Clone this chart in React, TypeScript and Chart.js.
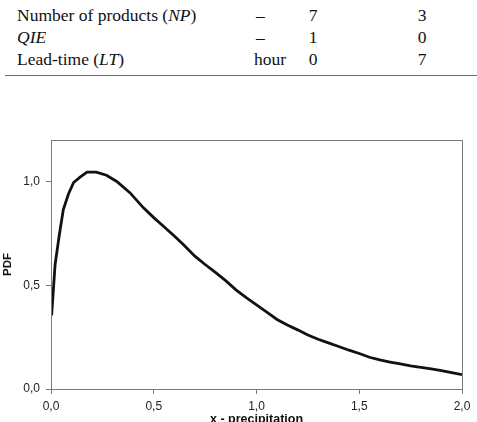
import React, { useEffect, useRef } from "react";
import { Chart, registerables } from "chart.js";

Chart.register(...registerables);

// Precipitation values (x) and probability density (PDF)
const X_VALUES = [
  0.003, 0.011, 0.02, 0.04, 0.06, 0.085, 0.11, 0.14, 0.175, 0.22, 0.27, 0.32,
  0.385, 0.45, 0.5, 0.55, 0.6, 0.65, 0.7, 0.75, 0.8, 0.85, 0.9, 0.95, 1.0,
  1.05, 1.1, 1.15, 1.2, 1.25, 1.3, 1.35, 1.4, 1.45, 1.5, 1.55, 1.6, 1.65, 1.7,
  1.75, 1.8, 1.85, 1.9, 1.95, 2.0,
];
const PDF_VALUES = [
  0.355, 0.47, 0.6, 0.74, 0.865, 0.94, 0.995, 1.02, 1.045, 1.045, 1.03, 1.0,
  0.945, 0.873, 0.826, 0.782, 0.737, 0.69, 0.64, 0.6, 0.562, 0.522, 0.478,
  0.44, 0.405, 0.37, 0.335, 0.308, 0.285, 0.26, 0.24, 0.222, 0.205, 0.187,
  0.171, 0.153, 0.14, 0.13, 0.121, 0.111, 0.104, 0.097, 0.089, 0.079, 0.069,
];
const X_TICKS = [0, 0.5, 1.0, 1.5, 2.0];
const Y_TICKS = [0, 0.5, 1.0];

// Table rows printed above the figure
const ROW_LABELS: [string, string][] = [
  ["Number of products (", "NP"],
  ["", "QIE"],
  ["Lead-time (", "LT"],
];
const ROW_UNITS = ["–", "–", "hour"];
const ROW_COL_A = ["7", "1", "0"];
const ROW_COL_B = ["3", "0", "7"];

const fmt = (v: number) => v.toFixed(1).replace(".", ",");

const AXIS_GREY = "#7a7a7a";

const frame = {
  id: "frame",
  afterDraw(chart: any) {
    const { ctx, chartArea } = chart;
    ctx.save();
    ctx.strokeStyle = AXIS_GREY;
    ctx.lineWidth = 1;
    ctx.strokeRect(
      Math.round(chartArea.left) + 0.5,
      Math.round(chartArea.top) + 0.5,
      Math.round(chartArea.right - chartArea.left),
      Math.round(chartArea.bottom - chartArea.top)
    );
    ctx.restore();
  },
};

function PdfChart() {
  const ref = useRef<HTMLCanvasElement | null>(null);
  useEffect(() => {
    if (!ref.current) return;
    const chart = new Chart(ref.current, {
      type: "line",
      data: {
        datasets: [
          {
            data: X_VALUES.map((x, i) => ({ x, y: PDF_VALUES[i] })),
            borderColor: "#111111",
            borderWidth: 2.8,
            pointRadius: 0,
            tension: 0,
            fill: false,
          },
        ],
      },
      options: {
        animation: false,
        responsive: false,
        events: [],
        plugins: { legend: { display: false }, tooltip: { enabled: false } },
        layout: { padding: { left: 0, right: 15, top: 140, bottom: 0 } },
        scales: {
          x: {
            type: "linear",
            min: 0,
            max: 2,
            afterBuildTicks: (axis: any) => {
              axis.ticks = X_TICKS.map((value) => ({ value }));
            },
            afterFit: (scale: any) => {
              scale.height = 440 - 389;
            },
            grid: {
              drawOnChartArea: false,
              drawTicks: true,
              tickLength: 5,
              color: AXIS_GREY,
            },
            border: { color: AXIS_GREY },
            ticks: {
              callback: (v: any) => fmt(Number(v)),
              color: "#222",
              padding: 5,
              maxRotation: 0,
              font: { family: "'Liberation Sans', Arial", size: 12 },
            },
            title: {
              display: true,
              text: "x - precipitation",
              color: "#111",
              padding: { top: 0, bottom: 13 },
              font: { family: "'Liberation Sans', Arial", size: 12.5, weight: "bold" },
            },
          },
          y: {
            type: "linear",
            min: 0,
            max: 1.2,
            afterBuildTicks: (axis: any) => {
              axis.ticks = Y_TICKS.map((value) => ({ value }));
            },
            afterFit: (scale: any) => {
              scale.width = 51;
            },
            grid: {
              drawOnChartArea: false,
              drawTicks: true,
              tickLength: 5,
              color: AXIS_GREY,
            },
            border: { color: AXIS_GREY },
            ticks: {
              callback: (v: any) => fmt(Number(v)),
              color: "#222",
              padding: 6,
              font: { family: "'Liberation Sans', Arial", size: 12 },
            },
            title: {
              display: true,
              text: "PDF",
              color: "#111",
              padding: { top: 1, bottom: 0 },
              font: { family: "'Liberation Sans', Arial", size: 11.5, weight: "bold" },
            },
          },
        },
      },
      plugins: [frame],
    });
    return () => chart.destroy();
  }, []);
  return (
    <canvas
      ref={ref}
      width={477}
      height={440}
      style={{ position: "absolute", left: 0, top: 0, width: 477, height: 440 }}
    />
  );
}

export default function App() {
  const serif: React.CSSProperties = {
    position: "absolute",
    fontFamily: "'Liberation Serif', 'Times New Roman', serif",
    fontSize: 17.5,
    lineHeight: "18px",
    color: "#111",
    whiteSpace: "nowrap",
  };
  const baselines = [20, 42, 64];
  return (
    <div
      style={{
        position: "fixed",
        left: 0,
        top: 0,
        width: 477,
        height: 422,
        overflow: "hidden",
        background: "#fff",
      }}
    >
      {ROW_LABELS.map(([plain, ital], i) => (
        <div key={"l" + i} style={{ ...serif, left: 17, top: baselines[i] - 14 }}>
          {plain}
          <i>{ital}</i>
          {plain ? ")" : ""}
        </div>
      ))}
      {ROW_UNITS.map((u, i) => (
        <div
          key={"u" + i}
          style={{ ...serif, left: u === "–" ? 256 : 254, top: baselines[i] - 14 }}
        >
          {u}
        </div>
      ))}
      {ROW_COL_A.map((v, i) => (
        <div
          key={"a" + i}
          style={{ ...serif, left: 303, width: 20, textAlign: "center", top: baselines[i] - 14 }}
        >
          {v}
        </div>
      ))}
      {ROW_COL_B.map((v, i) => (
        <div
          key={"b" + i}
          style={{ ...serif, left: 412, width: 20, textAlign: "center", top: baselines[i] - 14 }}
        >
          {v}
        </div>
      ))}
      <div
        style={{
          position: "absolute",
          left: 5,
          top: 74.5,
          width: 472,
          height: 1.5,
          background: "#6e6e6e",
        }}
      />
      <PdfChart />
    </div>
  );
}
